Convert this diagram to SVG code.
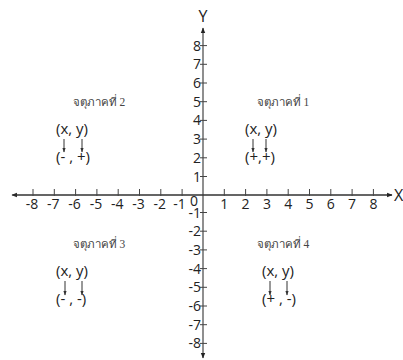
<svg xmlns="http://www.w3.org/2000/svg" width="403" height="360" viewBox="0 0 403 360">
<defs>
<marker id="ah" viewBox="0 0 10 10" refX="9" refY="5" markerWidth="5" markerHeight="5" orient="auto"><path d="M0,1 L10,5 L0,9 Z" fill="#222"/></marker>
<marker id="sa" viewBox="0 0 10 10" refX="9" refY="5" markerWidth="5" markerHeight="5" orient="auto"><path d="M0,1.5 L10,5 L0,8.5 Z" fill="#333"/></marker>
</defs>
<style>
.ax{stroke:#333;stroke-width:1.1;fill:none}
.tk{stroke:#444;stroke-width:1}
.n{font-family:"Open Sans","Liberation Sans",sans-serif;font-size:14px;fill:#222}
.nx{text-anchor:middle}
.ny{text-anchor:end}
.q{font-family:"Liberation Serif","Noto Sans",serif;font-size:11.5px;fill:#444;text-anchor:middle}
.p{font-family:"Open Sans","Liberation Sans",sans-serif;font-size:15px;fill:#222}
.sa{stroke:#333;stroke-width:1;fill:none}
.lb{font-family:"Open Sans","Liberation Sans",sans-serif;font-size:16px;fill:#222}
</style>
<rect width="403" height="360" fill="#fff"/>
<g id="axes">
<line class="ax" x1="203" y1="357" x2="203" y2="28" marker-end="url(#ah)"/>
<line class="ax" x1="203" y1="357" x2="203" y2="358" marker-end="url(#ah)"/>
<line class="ax" x1="392" y1="195" x2="12" y2="195" marker-end="url(#ah)"/>
<line class="ax" x1="14" y1="195" x2="392" y2="195" marker-end="url(#ah)"/>
<text class="lb" x="203" y="22" text-anchor="middle">Y</text>
<text class="lb" x="394" y="201">X</text>
</g>
<g id="xticks">
<path class="tk" d="M33,189v7M54.3,189v7M75.6,189v7M96.9,189v7M118.2,189v7M139.5,189v7M160.8,189v7M182.1,189v7M224.3,189v7M245.6,189v7M266.9,189v7M288.2,189v7M309.5,189v7M330.8,189v7M352.1,189v7M373.4,189v7"/>
<text class="n nx" x="32" y="209">-8</text>
<text class="n nx" x="53.3" y="209">-7</text>
<text class="n nx" x="74.6" y="209">-6</text>
<text class="n nx" x="95.9" y="209">-5</text>
<text class="n nx" x="117.2" y="209">-4</text>
<text class="n nx" x="138.5" y="209">-3</text>
<text class="n nx" x="159.8" y="209">-2</text>
<text class="n nx" x="179.5" y="209">-1</text>
<text class="n nx" x="194" y="206">0</text>
<text class="n nx" x="224.3" y="209">1</text>
<text class="n nx" x="245.6" y="209">2</text>
<text class="n nx" x="266.9" y="209">3</text>
<text class="n nx" x="288.2" y="209">4</text>
<text class="n nx" x="309.5" y="209">5</text>
<text class="n nx" x="330.8" y="209">6</text>
<text class="n nx" x="352.1" y="209">7</text>
<text class="n nx" x="373.4" y="209">8</text>
</g>
<g id="yticks">
<path class="tk" d="M200,45.6h7M200,64.3h7M200,83h7M200,101.7h7M200,120.4h7M200,139.1h7M200,157.8h7M200,176.5h7M200,212.5h7M200,231.2h7M200,249.9h7M200,268.6h7M200,287.3h7M200,306h7M200,324.7h7M200,343.4h7"/>
<text class="n ny" x="201" y="50.6">8</text>
<text class="n ny" x="201" y="69.3">7</text>
<text class="n ny" x="201" y="88">6</text>
<text class="n ny" x="201" y="106.7">5</text>
<text class="n ny" x="201" y="125.4">4</text>
<text class="n ny" x="201" y="144.1">3</text>
<text class="n ny" x="201" y="162.8">2</text>
<text class="n ny" x="201" y="181.5">1</text>
<text class="n ny" x="201" y="218">-1</text>
<text class="n ny" x="201" y="236.2">-2</text>
<text class="n ny" x="201" y="254.9">-3</text>
<text class="n ny" x="201" y="273.6">-4</text>
<text class="n ny" x="201" y="292.3">-5</text>
<text class="n ny" x="201" y="311">-6</text>
<text class="n ny" x="201" y="329.7">-7</text>
<text class="n ny" x="201" y="348.4">-8</text>
</g>
<g id="q2">
<text class="q" x="99" y="106">จตุภาคที่ 2</text>
<text class="p" x="56" y="134">(x, y)</text>
<line class="sa" x1="64" y1="139" x2="64" y2="152" marker-end="url(#sa)"/>
<line class="sa" x1="82" y1="139" x2="82" y2="152" marker-end="url(#sa)"/>
<text class="p" x="56" y="162">(- , +)</text>
</g>
<g id="q1">
<text class="q" x="283" y="106">จตุภาคที่ 1</text>
<text class="p" x="245" y="134">(x, y)</text>
<line class="sa" x1="253" y1="139" x2="253" y2="152" marker-end="url(#sa)"/>
<line class="sa" x1="266" y1="139" x2="266" y2="152" marker-end="url(#sa)"/>
<text class="p" x="245" y="162">(+,+)</text>
</g>
<g id="q3">
<text class="q" x="99" y="248">จตุภาคที่ 3</text>
<text class="p" x="56" y="276">(x, y)</text>
<line class="sa" x1="65" y1="281" x2="65" y2="295" marker-end="url(#sa)"/>
<line class="sa" x1="82" y1="281" x2="82" y2="295" marker-end="url(#sa)"/>
<text class="p" x="56" y="304">(- , -)</text>
</g>
<g id="q4">
<text class="q" x="283" y="248">จตุภาคที่ 4</text>
<text class="p" x="262" y="276">(x, y)</text>
<line class="sa" x1="270" y1="281" x2="270" y2="295" marker-end="url(#sa)"/>
<line class="sa" x1="287" y1="281" x2="287" y2="295" marker-end="url(#sa)"/>
<text class="p" x="262" y="304">(+ , -)</text>
</g>
</svg>
